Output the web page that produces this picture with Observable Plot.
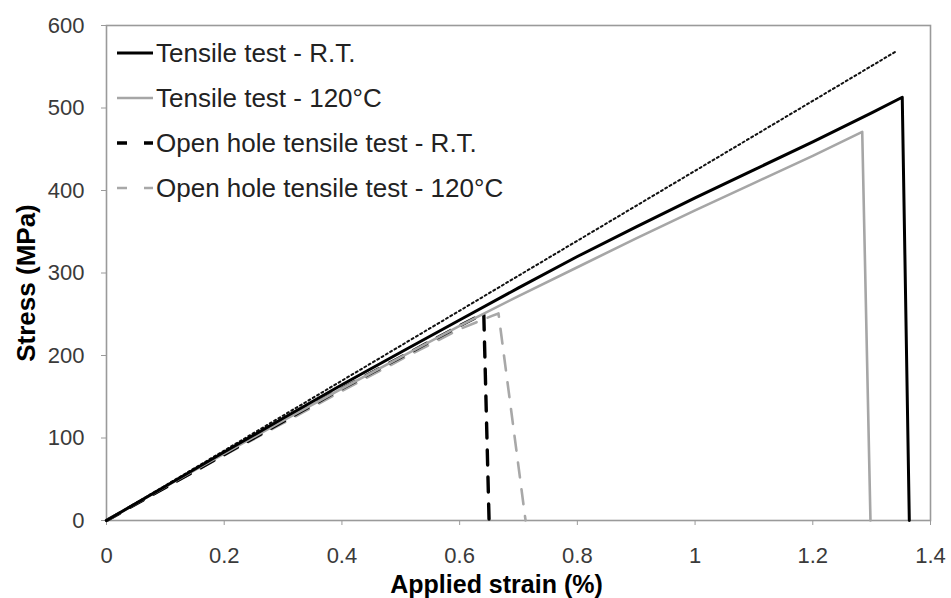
<!DOCTYPE html>
<html>
<head>
<meta charset="utf-8">
<script src="https://cdn.jsdelivr.net/npm/d3@7"></script>
<script src="https://cdn.jsdelivr.net/npm/@observablehq/plot@0.6"></script>
<style>
  html, body { margin: 0; padding: 0; background: #fff; }
  #chart { position: relative; width: 951px; height: 598px; }
</style>
</head>
<body>
<div id="chart"></div>
<script>
// ---- data ----
const xTicks = [0, 0.2, 0.4, 0.6, 0.8, 1, 1.2, 1.4];
const yTicks = [0, 100, 200, 300, 400, 500, 600];

const rtStrain  = [0, 0.1, 0.2, 0.3, 0.4, 0.5, 0.6, 0.7, 0.8, 0.9, 1.0, 1.1, 1.2, 1.3, 1.352, 1.364];
const rtStress  = [0, 41.5, 83, 124, 164.5, 204, 243, 282, 320, 356, 391, 425, 459, 494, 513, 0];

const hotStrain = [0, 0.1, 0.2, 0.3, 0.4, 0.5, 0.6, 0.7, 0.8, 0.9, 1.0, 1.1, 1.2, 1.284, 1.298];
const hotStress = [0, 41, 81, 121, 160, 198, 236, 272, 307, 342, 376, 409, 442, 471, 0];

const ohRtStrain  = [0, 0.1, 0.2, 0.3, 0.4, 0.5, 0.6, 0.641, 0.650];
const ohRtStress  = [0, 40, 80, 120, 160, 198, 236, 251, 0];

const ohHotStrain = [0, 0.1, 0.2, 0.3, 0.4, 0.5, 0.6, 0.655, 0.666, 0.712];
const ohHotStress = [0, 40, 79, 118, 157, 195, 232, 248, 251, 0];

const fitStrain = [0, 1.34];
const fitStress = [0, 568];

const seriesNames = [
  "Tensile test - R.T.",
  "Tensile test - 120°C",
  "Open hole tensile test - R.T.",
  "Open hole tensile test - 120°C"
];
const xLabel = "Applied strain (%)";
const yLabel = "Stress (MPa)";

const pts = (xs, ys) => xs.map((x, i) => ({x, y: ys[i]}));

const font = "Liberation Sans, Arial, Helvetica, sans-serif";

const chart = Plot.plot({
  width: 951,
  height: 598,
  marginLeft: 106,
  marginRight: 21,
  marginTop: 25,
  marginBottom: 78,
  style: {fontFamily: font, background: "#fff", color: "#333"},
  x: {domain: [0, 1.4]},
  y: {domain: [0, 600]},
  marks: [
    Plot.frame({stroke: "#9a9a9a", strokeWidth: 1.6}),
    Plot.axisX({ticks: xTicks, tickFormat: d => String(d), tickSize: 5, tickPadding: 22,
                stroke: "#9a9a9a", fill: "#3a3a3a", fontSize: 22, label: null}),
    Plot.axisY({ticks: yTicks, tickSize: 5, tickPadding: 17,
                stroke: "#9a9a9a", fill: "#3a3a3a", fontSize: 22, label: null}),
    // linear fit (dotted)
    Plot.line(pts(fitStrain, fitStress), {x: "x", y: "y", stroke: "#111", strokeWidth: 2, strokeDasharray: "2 3"}),
    // open hole curves
    Plot.line(pts(ohHotStrain, ohHotStress), {x: "x", y: "y", stroke: "#a8a8a8", strokeWidth: 2.6, strokeDasharray: "15 12"}),
    Plot.line(pts(ohRtStrain, ohRtStress), {x: "x", y: "y", stroke: "#000", strokeWidth: 3.4, strokeDasharray: "15 12"}),
    // tensile curves
    Plot.line(pts(hotStrain, hotStress), {x: "x", y: "y", stroke: "#a6a6a6", strokeWidth: 2.6}),
    Plot.line(pts(rtStrain, rtStress), {x: "x", y: "y", stroke: "#000", strokeWidth: 3}),
    // axis titles
    Plot.text([xLabel], {frameAnchor: "bottom", text: d => d, dy: 64, dx: -22,
                         textAnchor: "middle", lineAnchor: "middle",
                         fontSize: 25, fontWeight: "bold", fill: "#000"}),
    Plot.text([yLabel], {frameAnchor: "left", text: d => d, dx: -80, dy: 10, rotate: -90,
                         textAnchor: "middle", lineAnchor: "middle",
                         fontSize: 26, fontWeight: "bold", fill: "#000"})
  ]
});

// ---- legend inside the plot area (top-left) ----
const legendStyles = [
  {stroke: "#000", width: 3, dash: null},
  {stroke: "#a6a6a6", width: 2.6, dash: null},
  {stroke: "#000", width: 3.4, dash: "10 17"},
  {stroke: "#a8a8a8", width: 2.6, dash: "10 17"}
];
const svg = d3.select(chart);
const lg = svg.append("g").attr("font-family", font).attr("font-size", 26)
  .attr("text-anchor", "start");
seriesNames.forEach((name, i) => {
  const y = 53 + i * 45;
  const st = legendStyles[i];
  lg.append("line")
    .attr("x1", 117).attr("x2", 153).attr("y1", y).attr("y2", y)
    .attr("stroke", st.stroke).attr("stroke-width", st.width)
    .attr("stroke-dasharray", st.dash);
  lg.append("text")
    .attr("x", 156).attr("y", y).attr("dy", "0.35em")
    .attr("fill", "#222")
    .text(name);
});

document.getElementById("chart").appendChild(chart);
</script>
</body>
</html>
